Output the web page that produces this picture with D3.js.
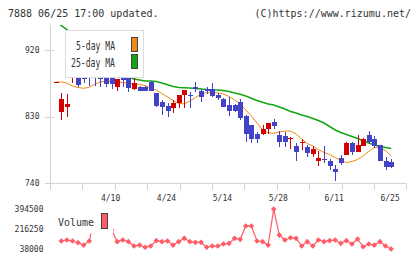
<!DOCTYPE html>
<html><head><meta charset="utf-8">
<script src="https://cdn.jsdelivr.net/npm/d3@7"></script>
<style>body{margin:0;background:#fff}svg{display:block}</style>
</head><body>
<svg id="c" width="420" height="259"></svg>
<script>
// ---- data (index 0..60 = trading days, last = 6/25) ----
const opens  = [876,836.7,843,887,910,882.5,897.5,910,882.5,883,882,869.6,882,884.8,868,870,870,877,861.5,850,844.4,842,848,859,859.5,870.5,864,867,867,859,854,845.7,845.7,850,831,818.7,806.6,806.6,813,823,805,804,799.4,790.4,795,788.5,779,770,773,770,759,773.7,778,795,782.7,790.4,805,799.4,791.7,770,768.3];
const highs  = [877,861.5,860.6,893,911,895,905,913,890.7,889,889,881,888.5,890.7,883,871,871,878,862,852.5,849,852.5,859,866,863.7,877,868,870.4,875,861.5,855.6,857,847,854,832,819,809.6,819,822,826.4,811,809,803,794,800,792,790.4,783.6,790,772.4,764.7,778,796,796,805,801,811,804,792,776,772.4];
const lows   = [876,825.5,830,875,870,875,872,872,870.4,870,868,865,870.4,863.7,866,864,864,864,843,832,830,835,842,842,842,863,850,860.6,857,852.5,842.6,831,836,825.5,796,794,794,805,806.6,813,789,789,786,770.5,785,775,776,763.4,767,758,743.5,764.7,778,778,782,790,793,787,770,758,761];
const closes = [877,853.8,847,893,873,881,895,882,880.5,874,874,880.4,880,868.2,875,865,865,865,845,842.6,838,849,859,866,858,867,857,865,858,855.5,843.5,837.6,838,828.6,806.6,799.4,799.4,813.3,821,818,796,796,800.7,782.7,796,781.3,786,773.7,771.5,764,755.7,767,795,782.7,791.7,800,796,790.4,770.5,762.4,761.6];
const ma5    = [876.8,876.8,875.4,871.4,869.3,868.3,869.6,874,876.8,878,877.4,877.2,876,875,874,873.6,872,868.6,866,861.2,856.5,851.8,847.7,847.3,851,855.8,860.5,862.3,862.3,862,860.5,857.2,852.5,847,839,830.9,821.4,812,808.3,807.5,809.3,810.6,810.6,806.6,799.8,793.7,790.4,785.6,781.6,778.9,774.8,770.8,768,769.4,772.1,776.9,783,788.3,787.7,784.3,776.9];
const ma25   = [959,953,947.6,941.6,935.5,929.5,923.3,917.3,911.2,905.1,899,893,887.6,883.5,880.8,879.5,878.1,878.1,877.4,875.4,873,870.7,869.3,869,868.6,868,867.3,866.6,866.2,866,865.3,863.9,861.9,860.2,857.9,854.8,851.8,849.4,847.1,845.7,843,840.3,836.9,834.9,832.2,830.2,827.5,824.8,821.4,816.7,812,808.6,805.9,803.2,800.5,797.1,794.4,791.7,789.7,788.3,787];
const volumes= [null,111000,120000,111000,96000,75000,111000,340000,300000,250000,210000,105000,120000,105000,66500,75000,55000,66500,114000,105000,111000,75000,105000,135000,105000,99000,99000,55000,66500,66500,84000,90000,135000,126000,245000,245000,111000,105000,75000,394500,164000,120000,140000,135000,66500,105000,66500,120000,105000,114000,120000,90000,114000,84000,129000,60000,84000,75000,105000,66500,40000];
const xLabels   = ["4/10","4/24","5/14","5/28","6/11","6/25"];
const xLabelIdx = [10,20,30,40,50,60];
const priceTicks  = [740,830,920];
const volumeTicks = [38000,216250,394500];
const legendNames = ["5-day MA","25-day MA"];

// ---- layout ----
const RED="#d40000", BLUE="#4343c6", ORANGE="#f08a10", GREEN="#14a514", VOL="#ff5c66", AX="#d4d4d4", TXT="#333";
const MONO="'DejaVu Sans Mono', 'Liberation Mono', monospace";
const svg=d3.select("#c");
const x=d3.scaleLinear().domain([0,60]).range([55.7,391.1]);
const y=d3.scaleLinear().domain([740,920]).range([183.3,50]);
const yv=d3.scaleLinear().domain([38000,394500]).range([249.2,209.2]);
const N=closes.length;

// header
svg.append("text").attr("x",8).attr("y",16.5).attr("font-family",MONO).attr("font-size",10).attr("fill",TXT).text("7888 06/25 17:00 updated.");
svg.append("text").attr("x",411).attr("y",16.5).attr("text-anchor","end").attr("font-family",MONO).attr("font-size",10).attr("fill",TXT).text("(C)https://www.rizumu.net/");

// axes
const ax=svg.append("g").attr("stroke",AX).attr("shape-rendering","crispEdges");
ax.append("line").attr("x1",50.5).attr("x2",50.5).attr("y1",25).attr("y2",189.5);
ax.append("line").attr("x1",50).attr("x2",406.5).attr("y1",Math.round(y(740))+0.5).attr("y2",Math.round(y(740))+0.5);
priceTicks.forEach(t=>{
  const yy=Math.round(y(t))+0.5;
  ax.append("line").attr("x1",45).attr("x2",54).attr("y1",yy).attr("y2",yy);
});
const xt=d3.range(12).map(k=>50+k*(356.4/11));
xt.forEach(px=>{
  const xx=Math.round(px)+0.5;
  ax.append("line").attr("x1",xx).attr("x2",xx).attr("y1",y(740)).attr("y2",189.5);
});
svg.append("g").selectAll("text").data(priceTicks).join("text")
  .attr("x",39.5).attr("y",d=>y(d)).attr("dy","0.35em").attr("text-anchor","end")
  .attr("font-family",MONO).attr("font-size",8).attr("fill",TXT).text(d=>d);
svg.append("g").selectAll("text").data(xLabels).join("text")
  .attr("x",(d,i)=>x(xLabelIdx[i])-1).attr("y",200.5).attr("text-anchor","middle")
  .attr("font-family",MONO).attr("font-size",8).attr("fill",TXT).text(d=>d);
svg.append("g").selectAll("text").data(volumeTicks).join("text")
  .attr("x",43.5).attr("y",d=>yv(d)).attr("dy","0.35em").attr("text-anchor","end")
  .attr("font-family",MONO).attr("font-size",8).attr("fill",TXT).text(d=>d);

// clip
svg.append("clipPath").attr("id","pc").append("rect").attr("x",51).attr("y",25).attr("width",360).attr("height",158);
const plot=svg.append("g").attr("clip-path","url(#pc)");

// MA lines
const line=d3.line().x((d,i)=>x(i)).y(d=>y(d));
plot.append("path").attr("d",line(ma25)).attr("fill","none").attr("stroke",GREEN).attr("stroke-width",1.5);
plot.append("path").attr("d",line(ma5)).attr("fill","none").attr("stroke",ORANGE).attr("stroke-width",1);

// legend (price)
const lg=svg.append("g");
lg.append("rect").attr("x",65.5).attr("y",30.5).attr("width",78).attr("height",47).attr("fill","#fff").attr("stroke","#dcdcdc");
[ORANGE,GREEN].forEach((c,i)=>{
  lg.append("text").attr("x",115).attr("y",50+i*16.7).attr("text-anchor","end").attr("font-family",MONO)
    .attr("font-size",12).attr("fill",TXT).attr("textLength",i?44:39).attr("lengthAdjust","spacingAndGlyphs").text(legendNames[i]);
  lg.append("rect").attr("x",131.5).attr("y",37.5+i*17).attr("width",6).attr("height",14).attr("fill",c).attr("stroke","#444");
});

// candles
const cg=plot.append("g").attr("shape-rendering","crispEdges");
d3.range(N).forEach(i=>{
  const up=closes[i]>=opens[i];
  const col=up?RED:BLUE;
  const cx=Math.round(x(i))+0.5;
  cg.append("line").attr("x1",cx).attr("x2",cx).attr("y1",y(highs[i])).attr("y2",y(lows[i])).attr("stroke",col);
  const top=y(Math.max(opens[i],closes[i])), bot=y(Math.min(opens[i],closes[i]));
  cg.append("rect").attr("x",cx-2.5).attr("width",5).attr("y",top).attr("height",Math.max(1,bot-top)).attr("fill",col);
});

// volume
const vline=d3.line().defined(d=>d!=null).x((d,i)=>x(i)).y(d=>yv(d));
svg.append("path").attr("d",vline(volumes)).attr("fill","none").attr("stroke",VOL).attr("stroke-width",1.2);
svg.append("g").selectAll("path").data(volumes.map((v,i)=>({v,i})).filter(d=>d.v!=null)).join("path")
  .attr("d",d3.symbol(d3.symbolSquare,16)).attr("fill",VOL)
  .attr("transform",d=>`translate(${x(d.i)},${yv(d.v)}) rotate(45)`);
const vl=svg.append("g");
vl.append("rect").attr("x",53).attr("y",205).attr("width",60).attr("height",28.5).attr("fill","#fff");
vl.append("text").attr("x",58).attr("y",226).attr("font-family",MONO).attr("font-size",11).attr("fill",TXT)
  .attr("textLength",36).attr("lengthAdjust","spacingAndGlyphs").text("Volume");
vl.append("rect").attr("x",101.5).attr("y",213.5).attr("width",6).attr("height",15).attr("fill",VOL).attr("stroke","#444");
</script>
</body></html>
